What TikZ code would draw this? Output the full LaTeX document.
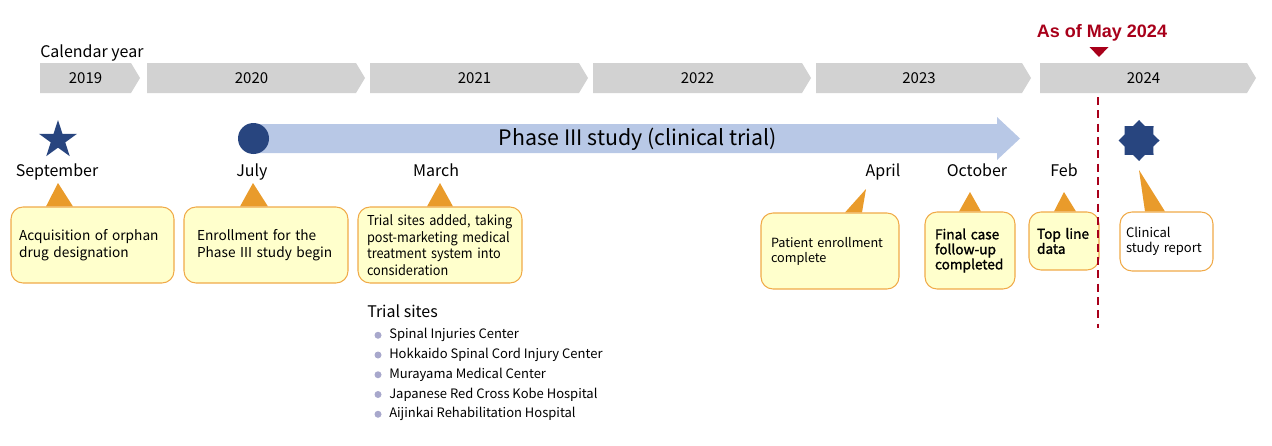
\documentclass[tikz,border=0pt]{standalone}
\usepackage{fontspec}
\setmainfont{Noto Sans CJK JP}
\newfontfamily\asoffont{Liberation Sans}
\usetikzlibrary{shapes.geometric}

\definecolor{yeargray}{HTML}{D2D2D2}
\definecolor{navy}{HTML}{28457F}
\definecolor{phaseblue}{HTML}{B8C8E6}
\definecolor{noteyellow}{HTML}{FFFFCC}
\definecolor{noteline}{HTML}{F0AA48}
\definecolor{pointerorange}{HTML}{E99B2B}
\definecolor{nowred}{HTML}{A8001A}
\definecolor{bulletgray}{HTML}{A8A8CC}

\tikzset{
  yearlabel/.style={font=\fontsize{11.25}{13}\selectfont},
  month/.style={anchor=base, font=\fontsize{12}{14}\selectfont},
  note/.style={draw=noteline, fill=noteyellow, line width=0.8pt, rounded corners=9pt,
    align=left, inner sep=0pt, font=\fontsize{10.25}{12.75}\selectfont},
  pointer/.style={fill=pointerorange},
  site/.style={anchor=west, inner sep=0pt, font=\fontsize{9.75}{12}\selectfont},
}

\begin{document}
\begin{tikzpicture}[x=0.75pt,y=-0.75pt]
  \useasboundingbox (0,0) rectangle (1272,446);

  % calendar years
  \node[anchor=west, inner sep=0pt, font=\fontsize{12}{14}\selectfont] (calyear) at (40,53) {Calendar year};
  \foreach \yr/\xa/\xb in {2019/40/140, 2020/147/365, 2021/370/588, 2022/593/811, 2023/816/1031, 2024/1040/1256} {
    \fill[yeargray] (\xa,63) -- (\xb-9,63) -- (\xb,78) -- (\xb-9,93) -- (\xa,93) -- cycle;
    \node[yearlabel] (y\yr) at ({(\xa+\xb-9)/2},78.5) {\yr};
  }

  % phase III bar
  \fill[phaseblue] (253,124) -- (997,124) -- (997,117) -- (1020,138.5) -- (997,160) -- (997,153) -- (253,153) -- cycle;
  \node[circle, fill=navy, inner sep=0pt, minimum size=23.25pt] (start) at (253.5,138.5) {};
  \node[font=\fontsize{16}{18}\selectfont] (phase) at (638,139) {Phase III study (clinical trial)};

  % markers
  \node[star, star points=5, star point ratio=2.618, fill=navy, inner sep=0pt, minimum size=30pt] (orphan) at (58,140) {};
  \node[star, star points=8, star point ratio=1.31, fill=navy, inner sep=0pt, minimum size=30.75pt] (report) at (1139,140.5) {};

  % months
  \node[month] (m1) at (57,176.5) {September};
  \node[month] (m2) at (252,176.5) {July};
  \node[month] (m3) at (436,176.5) {March};
  \node[month] (m4) at (883,176.5) {April};
  \node[month] (m5) at (977,176.5) {October};
  \node[month] (m6) at (1064,176.5) {Feb};

  % notes
  \node[note, minimum width=122.25pt, minimum height=57pt, text width=110pt] (b1) at (92.5,245) {Acquisition of orphan\\drug designation};
  \node[note, minimum width=123pt, minimum height=57pt, text width=103.5pt] (b2) at (266,245) {Enrollment for the\\Phase III study begin};
  \node[note, minimum width=123pt, minimum height=57pt, text width=109.5pt,
    font=\fontsize{10.25}{12.4}\selectfont\addfontfeature{FakeStretch=0.93}] (b3) at (440,245)
    {Trial sites added, taking\\post-marketing medical\\treatment system into\\consideration};
  \node[note, minimum width=103.5pt, minimum height=57pt, text width=88.5pt,
    font=\fontsize{9.5}{11.25}\selectfont] (b4) at (830,251) {Patient enrollment\\complete};
  \node[note, minimum width=67.5pt, minimum height=57.75pt, text width=52.5pt,
    font=\fontsize{10.25}{11.25}\selectfont\addfontfeature{FakeBold=1.5}] (b5) at (970,250.5) {Final case\\follow-up\\completed};
  \node[note, minimum width=52.5pt, minimum height=43.5pt, text width=40.5pt,
    font=\fontsize{10.25}{11.25}\selectfont\addfontfeature{FakeBold=1.5}] (b6) at (1064,241) {Top line\\data};
  \node[note, fill=white, minimum width=69.75pt, minimum height=44.25pt, text width=60.75pt,
    font=\fontsize{9.75}{11.25}\selectfont] (b7) at (1166.5,241.5) {Clinical\\study report};

  % pointers
  \coordinate (a1) at (58,183);
  \coordinate (a2) at (253,183);
  \coordinate (a3) at (440,183);
  \coordinate (a4) at (866,189);
  \coordinate (a5) at (970,192);
  \coordinate (a6) at (1064,192);
  \coordinate (a7) at (1139,170);
  \fill[pointer] (a1) -- (46,0 |- b1.north) -- (73,0 |- b1.north) -- cycle;
  \fill[pointer] (a2) -- (240,0 |- b2.north) -- (268,0 |- b2.north) -- cycle;
  \fill[pointer] (a3) -- (427,0 |- b3.north) -- (453,0 |- b3.north) -- cycle;
  \fill[pointer] (a4) -- (845,0 |- b4.north) -- (862,0 |- b4.north) -- cycle;
  \fill[pointer] (a5) -- (959,0 |- b5.north) -- (981,0 |- b5.north) -- cycle;
  \fill[pointer] (a6) -- (1054,0 |- b6.north) -- (1076,0 |- b6.north) -- cycle;
  \fill[pointer] (a7) -- (1145,0 |- b7.north) -- (1165,0 |- b7.north) -- cycle;

  % as of May 2024
  \node[font=\asoffont\fontsize{13.5}{15}\selectfont\bfseries, text=nowred] (asof) at (1102,32.5) {As of May 2024};
  \coordinate (nowtip) at (1099,57);
  \coordinate (linetop) at (1098,97);
  \coordinate (linebot) at (1098,328);
  \fill[nowred] (nowtip) -- (1089.5,47) -- (1108.5,47) -- cycle;
  \draw[nowred, line width=1.5pt, dash pattern=on 6pt off 4pt] (linetop) -- (linebot);

  % trial sites
  \node[anchor=west, inner sep=0pt, font=\fontsize{12}{14}\selectfont] (sites) at (367,311.5) {Trial sites};
  \foreach \i/\name in {1/Spinal Injuries Center, 2/Hokkaido Spinal Cord Injury Center, 3/Murayama Medical Center,
    4/Japanese Red Cross Kobe Hospital, 5/Aijinkai Rehabilitation Hospital} {
    \node[circle, fill=bulletgray, inner sep=0pt, minimum size=5.25pt] (dot\i) at (378,{315.5+19.75*\i}) {};
    \node[site] (site\i) at (389,{315.5+19.75*\i}) {\name};
  }
\end{tikzpicture}
\end{document}
